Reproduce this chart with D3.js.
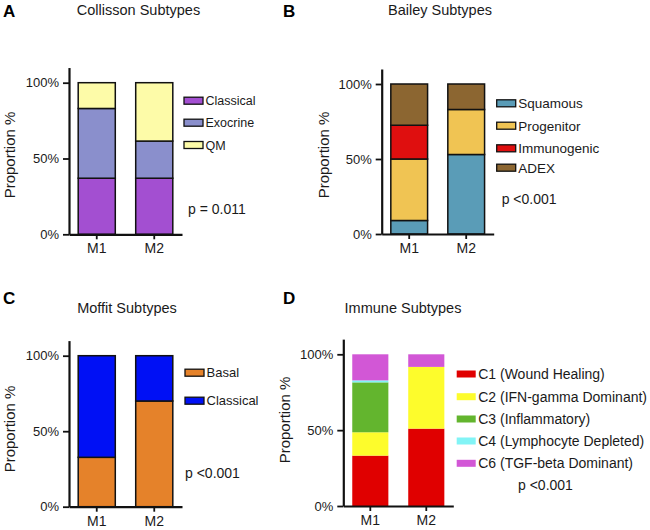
<!DOCTYPE html>
<html><head><meta charset="utf-8">
<script src="https://cdn.jsdelivr.net/npm/d3@7"></script>
<style>body{margin:0;background:#fff}svg{display:block;font-family:"Liberation Sans",Arial,Helvetica,sans-serif}</style>
</head><body><svg id="chart" width="650" height="530"></svg>
<script>
// ---------- data ----------
const categories = ["M1", "M2"];
const yTickValues = [0, 0.5, 1];
const yTickLabels = ["0%", "50%", "100%"];

const collissonSubtypes = ["Classical", "Exocrine", "QM"];
const collissonColors = ["#a34fd1", "#8a8fcc", "#fdfba8"];
const collissonM1 = [0.37, 0.46, 0.17];
const collissonM2 = [0.37, 0.245, 0.385];

const baileySubtypes = ["Squamous", "Progenitor", "Immunogenic", "ADEX"];
const baileyColors = ["#5a9cb7", "#f0c453", "#df0f0f", "#8c6631"];
const baileyM1 = [0.09, 0.41, 0.225, 0.275];
const baileyM2 = [0.53, 0.30, 0.0, 0.17];

const moffitSubtypes = ["Basal", "Classical"];
const moffitColors = ["#e5822a", "#0010f5"];
const moffitM1 = [0.327, 0.673];
const moffitM2 = [0.70, 0.30];

const immuneSubtypes = ["C1 (Wound Healing)", "C2 (IFN-gamma Dominant)", "C3 (Inflammatory)", "C4 (Lymphocyte Depleted)", "C6 (TGF-beta Dominant)"];
const immuneColors = ["#e00000", "#fdfc2c", "#63b52e", "#82f4f6", "#d257d6"];
const immuneM1 = [0.332, 0.154, 0.329, 0.013, 0.172];
const immuneM2 = [0.51, 0.407, 0.0, 0.0, 0.083];

const panelTitles = ["Collisson Subtypes", "Bailey Subtypes", "Moffit Subtypes", "Immune Subtypes"];
const panelLetters = ["A", "B", "C", "D"];
const pValues = ["p = 0.011", "p <0.001", "p <0.001", "p <0.001"];
const yAxisTitle = "Proportion %";

// ---------- layout ----------
const panels = [
  {keys: collissonSubtypes, colors: collissonColors, values: [collissonM1, collissonM2], outline: true,
   ax: 69, y0: 234.3, h: 151.6, w: 113,
   letter: [3, 16.5], title: [138.5, 10], ylab: [10, 155],
   legX: 184, legYs: [100.7, 122.7, 145], legFont: 12.5, pv: [188, 209]},
  {keys: baileySubtypes, colors: baileyColors, values: [baileyM1, baileyM2], outline: true,
   ax: 381.7, y0: 234, h: 150, w: 112,
   letter: [283, 16.5], title: [440, 9.5], ylab: [324, 155],
   legX: 496.7, legYs: [103.3, 125.7, 148.3, 167.7], legFont: 13.5, pv: [501.7, 199]},
  {keys: moffitSubtypes, colors: moffitColors, values: [moffitM1, moffitM2], outline: true,
   ax: 69, y0: 506.7, h: 151, w: 113,
   letter: [3, 303.5], title: [127, 308], ylab: [10, 429],
   legX: 185, legYs: [372.7, 400.7], legFont: 13, pv: [185, 473.3]},
  {keys: immuneSubtypes, colors: immuneColors, values: [immuneM1, immuneM2], outline: false,
   ax: 343.3, y0: 506, h: 151.7, w: 110,
   letter: [283, 303.5], title: [403, 308], ylab: [285, 420],
   legX: 456.7, legYs: [374, 396.7, 419, 441, 463.3], legFont: 14, pv: [518, 485]}
];

const svg = d3.select("#chart");
const textColor = "#1a1a1a";

panels.forEach((p, pi) => {
  const g = svg.append("g");
  const y = d3.scaleLinear().domain([0, 1.1]).range([p.y0, p.y0 - 1.1 * p.h]);
  const x = d3.scaleBand().domain(categories).range([p.ax, p.ax + p.w])
    .paddingInner(0.355).paddingOuter(0.16);

  const rows = categories.map((c, i) => {
    const o = {cat: c};
    p.keys.forEach((k, j) => { o[k] = p.values[i][j]; });
    return o;
  });
  const series = d3.stack().keys(p.keys)(rows);
  const color = d3.scaleOrdinal().domain(p.keys).range(p.colors);

  g.selectAll("g.layer").data(series).join("g").attr("class", "layer")
    .attr("fill", d => color(d.key))
    .selectAll("rect").data(d => d.filter(v => v[1] - v[0] > 0)).join("rect")
    .attr("x", d => x(d.data.cat))
    .attr("width", x.bandwidth())
    .attr("y", d => y(d[1]))
    .attr("height", d => y(d[0]) - y(d[1]))
    .attr("stroke", p.outline ? "#111" : "none")
    .attr("stroke-width", 1.5);

  // axes
  const yAxis = d3.axisLeft(y).tickValues(yTickValues)
    .tickFormat((d, i) => yTickLabels[i]).tickSize(6).tickSizeOuter(0).tickPadding(4);
  const ya = g.append("g").attr("transform", `translate(${p.ax},0)`).call(yAxis);
  const xAxis = d3.axisBottom(x).tickSize(5).tickSizeOuter(0).tickPadding(4);
  const xa = g.append("g").attr("transform", `translate(0,${p.y0})`).call(xAxis);
  [ya, xa].forEach(a => {
    a.select(".domain").attr("stroke", "#111").attr("stroke-width", 2.2);
    a.selectAll(".tick line").attr("stroke", "#111").attr("stroke-width", 1.8);
    a.selectAll(".tick text").attr("fill", textColor)
      .style("font-family", '"Liberation Sans",Arial,sans-serif').style("font-size", "13px");
  });
  xa.selectAll(".tick text").style("font-size", "14px");

  // panel letter
  g.append("text").attr("x", p.letter[0]).attr("y", p.letter[1])
    .attr("font-weight", "bold").attr("font-size", 17).attr("fill", "#000").text(panelLetters[pi]);
  // title
  g.append("text").attr("x", p.title[0]).attr("y", p.title[1]).attr("dy", "0.36em")
    .attr("text-anchor", "middle").attr("font-size", 14.5).attr("fill", textColor).text(panelTitles[pi]);
  // y axis title
  g.append("text").attr("transform", `translate(${p.ylab[0]},${p.ylab[1]}) rotate(-90)`)
    .attr("dy", "0.36em").attr("text-anchor", "middle").attr("font-size", 15)
    .attr("fill", textColor).text(yAxisTitle);

  // legend
  const leg = g.append("g");
  p.keys.forEach((k, j) => {
    leg.append("rect").attr("x", p.legX).attr("y", p.legYs[j] - 3.5)
      .attr("width", 19).attr("height", 7).attr("fill", color(k))
      .attr("stroke", p.outline ? "#111" : "none").attr("stroke-width", 1.3);
    leg.append("text").attr("x", p.legX + 21.5).attr("y", p.legYs[j]).attr("dy", "0.36em")
      .attr("font-size", p.legFont).attr("fill", textColor).text(k);
  });
  // p value
  g.append("text").attr("x", p.pv[0]).attr("y", p.pv[1]).attr("dy", "0.36em")
    .attr("font-size", 14).attr("fill", textColor).text(pValues[pi]);
});
</script>
</body></html>
